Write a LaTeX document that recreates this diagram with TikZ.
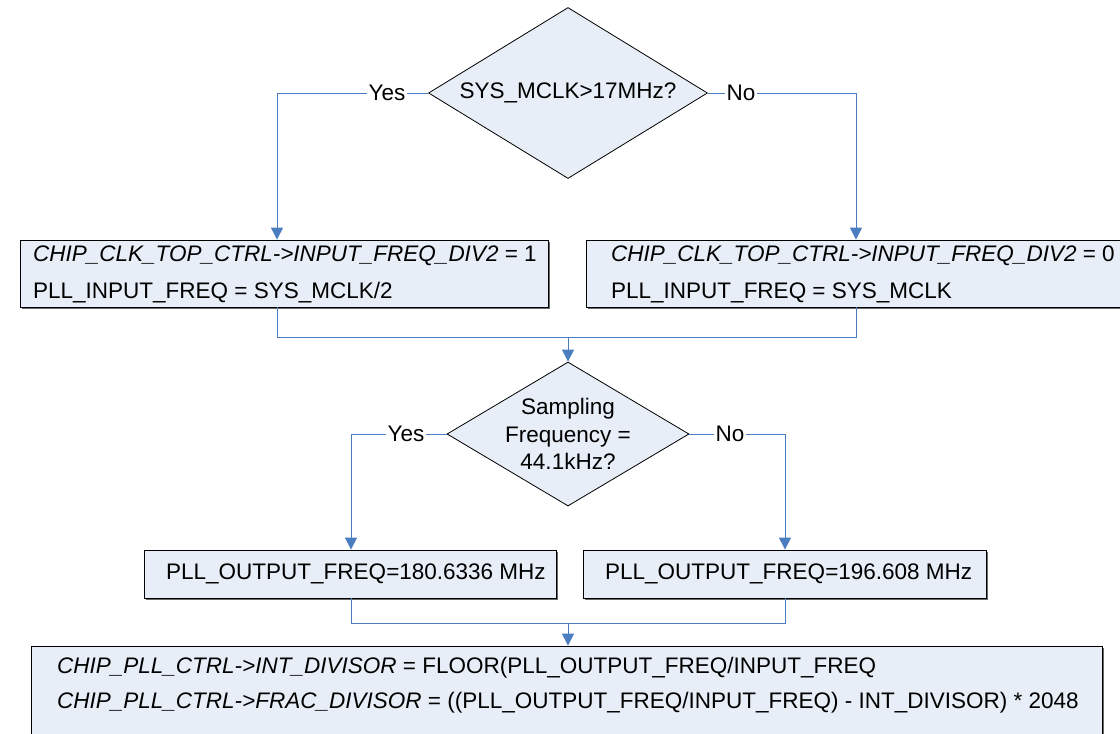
\documentclass[tikz,border=0pt]{standalone}
\usepackage{fontspec}
\setmainfont{Liberation Sans}
\usetikzlibrary{shapes.geometric,arrows.meta,shadows}
\definecolor{boxfill}{RGB}{232,238,247}
\definecolor{linec}{RGB}{74,126,193}
\definecolor{shade}{RGB}{105,105,105}
\begin{document}
\begin{tikzpicture}[x=1pt,y=-1pt,
  font=\fontsize{22.5}{37}\selectfont,
  box/.style={draw=black, line width=0.8pt, fill=boxfill, rectangle, inner sep=0pt,
    drop shadow={shadow xshift=2pt, shadow yshift=-2pt, fill=shade, opacity=1}},
  dec/.style={draw=black, line width=0.8pt, fill=boxfill, diamond, inner sep=0pt},
  txt/.style={anchor=west, align=left, inner sep=0pt},
  conn/.style={draw=linec, line width=1pt},
  arr/.style={conn, -{Triangle[length=12pt,width=12pt]}},
  lbl/.style={fill=white, inner sep=1.5pt}
]
\useasboundingbox (0,0) rectangle (1120,734);
\clip (0,0) rectangle (1120,734);

% first decision
\node[dec, minimum width=279pt, minimum height=171pt] (d1) at (568,93) {};
\node[inner sep=0pt] (d1t) at (d1.center) {SYS\_MCLK>17MHz?};

% top boxes
\node[box, minimum width=528pt, minimum height=67pt] (b1) at (284,273.5) {};
\node[txt] (b1t) at (33,274.5) {\textit{CHIP\_CLK\_TOP\_CTRL->INPUT\_FREQ\_DIV2} = 1\\PLL\_INPUT\_FREQ = SYS\_MCLK/2};
\node[box, minimum width=540pt, minimum height=67pt] (b2) at (856,273.5) {};
\node[txt] (b2t) at (611,274.5) {\textit{CHIP\_CLK\_TOP\_CTRL->INPUT\_FREQ\_DIV2} = 0\\PLL\_INPUT\_FREQ = SYS\_MCLK};

% second decision
\node[dec, minimum width=242pt, minimum height=144pt] (d2) at (568,434) {};
\node[align=center, inner sep=0pt, font=\fontsize{22.5}{27.5}\selectfont] (d2t) at (d2.center) {Sampling\\Frequency =\\44.1kHz?};

% middle boxes
\node[box, minimum width=412pt, minimum height=48pt] (b3) at (350,574) {};
\node[txt] (b3t) at (166,574) {PLL\_OUTPUT\_FREQ=180.6336 MHz};
\node[box, minimum width=403pt, minimum height=48pt] (b4) at (784.5,574) {};
\node[txt] (b4t) at (605,574) {PLL\_OUTPUT\_FREQ=196.608 MHz};

% bottom box
\node[box, minimum width=1071pt, minimum height=130pt] (b5) at (566.5,711) {};
\node[txt, font=\fontsize{22.5}{35}\selectfont] (b5t) at (57,685.5) {\textit{CHIP\_PLL\_CTRL->INT\_DIVISOR} = FLOOR(PLL\_OUTPUT\_FREQ/INPUT\_FREQ\\\textit{CHIP\_PLL\_CTRL->FRAC\_DIVISOR} = ((PLL\_OUTPUT\_FREQ/INPUT\_FREQ) - INT\_DIVISOR) * 2048};

% connectors from first decision
\draw[arr] (d1.west) -- (277,93) -- (277,0 |- b1.north);
\draw[arr] (d1.east) -- (856,93) -- (856,0 |- b2.north);
\node[lbl] (y1) at (387,93) {Yes};
\node[lbl] (n1) at (741,93) {No};

% merge to second decision
\draw[conn] (b1.south -| 277,0) -- (277,337) -- (856,337) -- (b2.south -| 856,0);
\draw[arr] (568,337) -- (d2.north);

% connectors from second decision
\draw[arr] (d2.west) -- (351,434) -- (351,0 |- b3.north);
\draw[arr] (d2.east) -- (785,434) -- (785,0 |- b4.north);
\node[lbl] (y2) at (406,434) {Yes};
\node[lbl] (n2) at (730,434) {No};

% merge to bottom box
\draw[conn] (b3.south -| 351,0) -- (351,623) -- (785,623) -- (b4.south -| 785,0);
\draw[arr] (568,623) -- (568,0 |- b5.north);
\end{tikzpicture}
\end{document}
